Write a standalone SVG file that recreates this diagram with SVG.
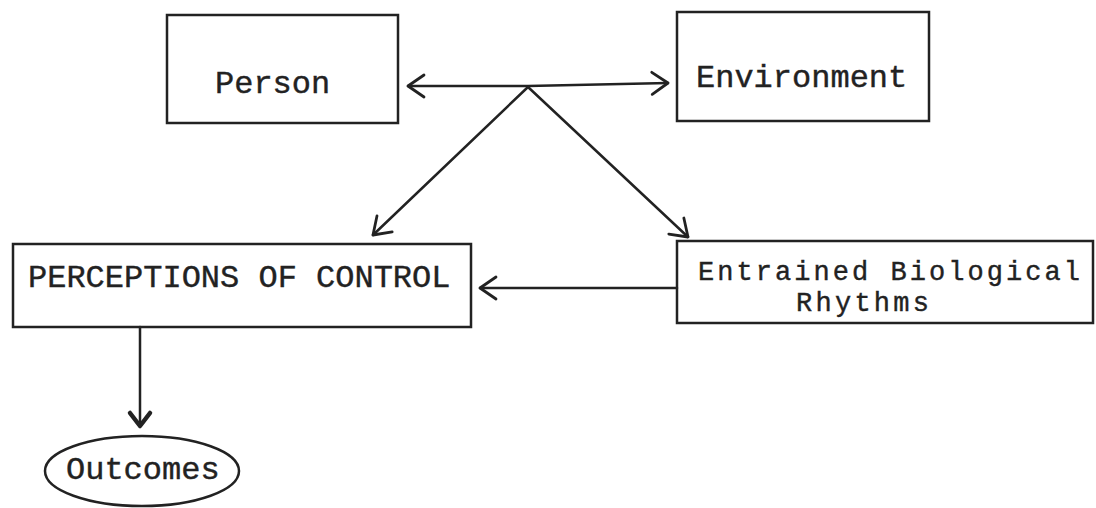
<svg xmlns="http://www.w3.org/2000/svg" width="1096" height="508" viewBox="0 0 1096 508">
  <style>
    .box { fill: #ffffff; stroke: #222222; stroke-width: 2.5; }
    .lbl { font-family: "Liberation Mono", "Courier New", monospace; font-size: 32px; fill: #222222; stroke: #222222; stroke-width: 0.4; }
    .lbl2 { font-size: 27px; }
    .conn { fill: none; stroke: #222222; stroke-width: 2.5; stroke-linecap: round; stroke-linejoin: round; }
  </style>
  <defs>
    <marker id="open" markerUnits="userSpaceOnUse" viewBox="-20 -14 24 28" refX="0" refY="0" markerWidth="24" markerHeight="28" orient="auto-start-reverse" overflow="visible">
      <path d="M-16,-11 L0,0 L-16,11" fill="none" stroke="#222222" stroke-width="2.8" stroke-linecap="round" stroke-linejoin="round"/>
    </marker>
    <marker id="heavy" markerUnits="userSpaceOnUse" viewBox="-20 -14 24 28" refX="0" refY="0" markerWidth="24" markerHeight="28" orient="auto" overflow="visible">
      <path d="M-13,-10 L0,0 L-13,10" fill="none" stroke="#222222" stroke-width="4.5" stroke-linecap="round" stroke-linejoin="round"/>
    </marker>
  </defs>
  <rect width="1096" height="508" fill="#ffffff"/>

  <g id="person">
    <rect class="box" x="167" y="15" width="231" height="108"/>
    <text class="lbl" x="215" y="93">Person</text>
  </g>
  <g id="environment">
    <rect class="box" x="677" y="12" width="252" height="109"/>
    <text class="lbl" x="696" y="87">Environment</text>
  </g>
  <g id="perceptions">
    <rect class="box" x="13" y="244" width="458" height="83"/>
    <text class="lbl" x="28" y="287">PERCEPTIONS OF CONTROL</text>
  </g>
  <g id="entrained">
    <rect class="box" x="677" y="241" width="416" height="82"/>
    <text class="lbl lbl2" x="698" y="280" textLength="382" lengthAdjust="spacing">Entrained Biological</text>
    <text class="lbl lbl2" x="796" y="311" textLength="133" lengthAdjust="spacing">Rhythms</text>
  </g>
  <g id="outcomes">
    <ellipse class="box" cx="142" cy="471" rx="97" ry="35"/>
    <text class="lbl" x="66" y="479">Outcomes</text>
  </g>

  <g id="connectors">
    <path class="conn" d="M408,86 L528,86 L668,83" marker-start="url(#open)" marker-end="url(#open)"/>
    <path class="conn" d="M528,87 L373,235" marker-end="url(#open)"/>
    <path class="conn" d="M528,87 L688,237" marker-end="url(#open)"/>
    <path class="conn" d="M677,288 L480,288" marker-end="url(#open)"/>
    <path class="conn" d="M140,327 L140,426" marker-end="url(#heavy)"/>
  </g>
</svg>
